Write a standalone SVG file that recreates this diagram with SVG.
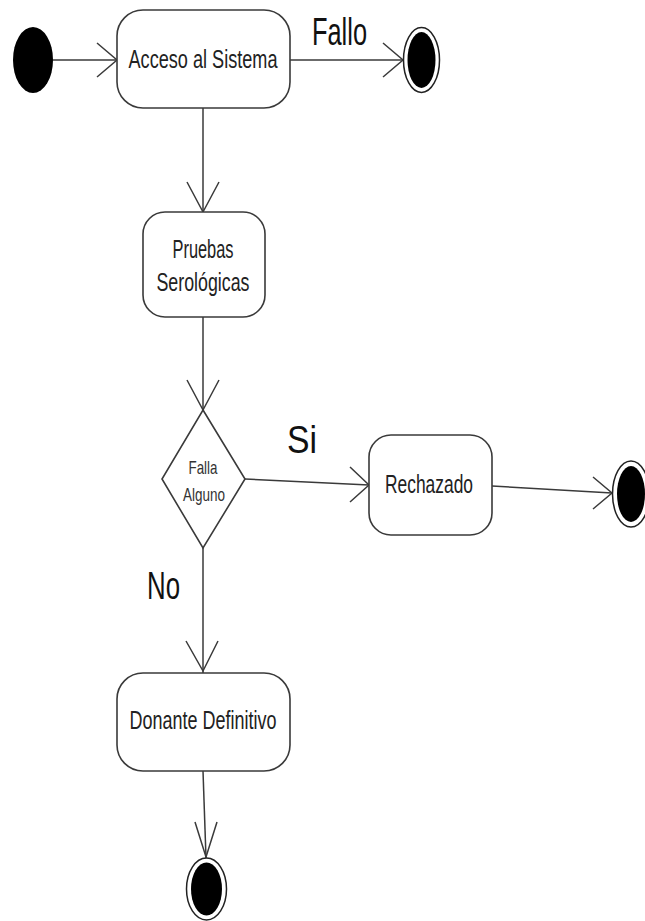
<svg xmlns="http://www.w3.org/2000/svg" width="645" height="921" viewBox="0 0 645 921">
  <style>
    .node { fill: #ffffff; stroke: #3a3a3a; stroke-width: 1.6; }
    .edge { fill: none; stroke: #3a3a3a; stroke-width: 1.5; }
    .head { fill: none; stroke: #3a3a3a; stroke-width: 1.5; stroke-linejoin: miter; }
    .start { fill: #000000; }
    .endRing { fill: #ffffff; stroke: #222222; stroke-width: 1.5; }
    .endDot { fill: #000000; }
    .label { font-family: "Liberation Sans", Arial, sans-serif; font-size: 26px; fill: #222222; text-anchor: middle; }
    .small { font-family: "Liberation Sans", Arial, sans-serif; font-size: 19px; fill: #333333; text-anchor: middle; }
    .guard { font-family: "Liberation Sans", Arial, sans-serif; font-size: 38px; fill: #111111; }
  </style>

  <!-- transitions -->
  <g id="connectors">
    <line class="edge" x1="53" y1="60" x2="117" y2="60"/>
    <polyline class="head" points="97,43 117,60 97,77"/>

    <line class="edge" x1="290" y1="60" x2="403" y2="60"/>
    <polyline class="head" points="383,43 403,60 383,77"/>

    <line class="edge" x1="203" y1="108" x2="203" y2="212"/>
    <polyline class="head" points="187,182 203,212 219,182"/>

    <line class="edge" x1="203" y1="317" x2="203" y2="410"/>
    <polyline class="head" points="187,380 203,410 219,380"/>

    <line class="edge" x1="245" y1="479" x2="369" y2="485"/>
    <polyline class="head" points="350,467 369,485 350,502"/>

    <line class="edge" x1="492" y1="486" x2="612" y2="493"/>
    <polyline class="head" points="593,477 612,493 593,509"/>

    <line class="edge" x1="203" y1="548" x2="203" y2="673"/>
    <polyline class="head" points="186,641 203,671 218,641"/>

    <line class="edge" x1="203" y1="771" x2="206" y2="858"/>
    <polyline class="head" points="195,822 206,857 217,822"/>

    <text class="guard" x="312" y="45" textLength="55" lengthAdjust="spacingAndGlyphs">Fallo</text>
    <text class="guard" x="287" y="453" textLength="30" lengthAdjust="spacingAndGlyphs">Si</text>
    <text class="guard" x="147" y="599" textLength="33" lengthAdjust="spacingAndGlyphs">No</text>
  </g>

  <g id="inicio">
    <ellipse class="start" cx="33" cy="60" rx="20" ry="33"/>
  </g>

  <g id="acceso">
    <rect class="node" x="117" y="10" width="173" height="98" rx="26" ry="26"/>
    <text class="label" x="203" y="68" textLength="149" lengthAdjust="spacingAndGlyphs">Acceso al Sistema</text>
  </g>

  <g id="fin-fallo">
    <ellipse class="endRing" cx="421.5" cy="60" rx="18" ry="32.5"/>
    <ellipse class="endDot" cx="421.5" cy="60" rx="14" ry="28"/>
  </g>

  <g id="pruebas">
    <rect class="node" x="143" y="212" width="122" height="105" rx="22" ry="22"/>
    <text class="label" x="203" y="258" textLength="61" lengthAdjust="spacingAndGlyphs">Pruebas</text>
    <text class="label" x="203" y="291" textLength="93" lengthAdjust="spacingAndGlyphs">Serológicas</text>
  </g>

  <g id="decision">
    <polygon class="node" points="203,410 245,479 203,548 162,479"/>
    <text class="small" x="203" y="474" textLength="29" lengthAdjust="spacingAndGlyphs">Falla</text>
    <text class="small" x="204" y="501" textLength="42" lengthAdjust="spacingAndGlyphs">Alguno</text>
  </g>

  <g id="rechazado">
    <rect class="node" x="369" y="435" width="123" height="100" rx="22" ry="22"/>
    <text class="label" x="429" y="493" textLength="88" lengthAdjust="spacingAndGlyphs">Rechazado</text>
  </g>

  <g id="fin-rechazo">
    <ellipse class="endRing" cx="631" cy="494" rx="18.5" ry="33"/>
    <ellipse class="endDot" cx="631" cy="494" rx="14" ry="28"/>
  </g>

  <g id="donante">
    <rect class="node" x="117" y="673" width="173" height="98" rx="26" ry="26"/>
    <text class="label" x="203" y="729" textLength="147" lengthAdjust="spacingAndGlyphs">Donante Definitivo</text>
  </g>

  <g id="fin-donante">
    <ellipse class="endRing" cx="206.5" cy="889" rx="20" ry="31"/>
    <ellipse class="endDot" cx="206.5" cy="889" rx="15.5" ry="26.5"/>
  </g>
</svg>
